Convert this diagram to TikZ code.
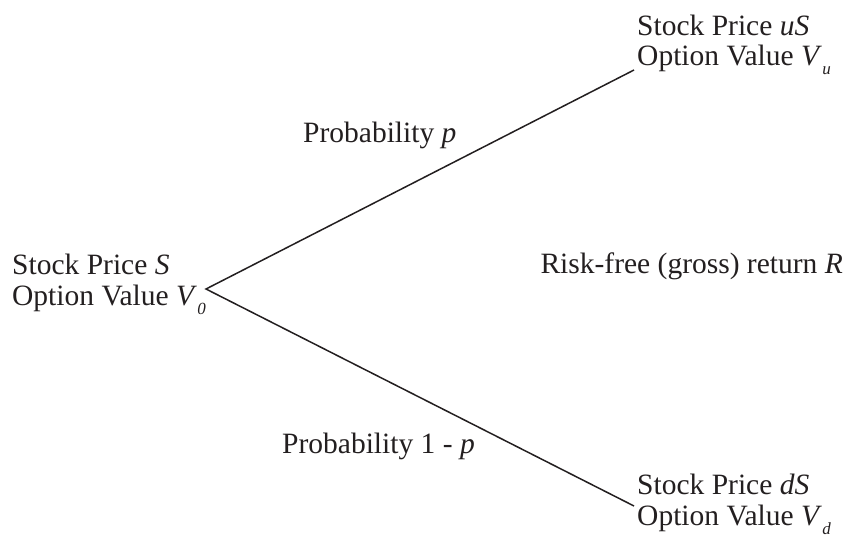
\documentclass[tikz,border=0pt]{standalone}
\usepackage{fontspec}
\setmainfont{Liberation Serif}
\usetikzlibrary{positioning}
\definecolor{ink}{HTML}{231F20}
\newcommand{\lowsub}[1]{\kern0.5pt\raisebox{-9pt}{\fontsize{17}{17}\selectfont\itshape #1}}
\tikzset{
  lbl/.style={anchor=base west,inner sep=0pt,text=ink,font=\fontsize{29.5}{31}\selectfont},
  branch/.style={draw=ink,line width=1.5pt}
}

\begin{document}
\begin{tikzpicture}[x=1pt,y=-1pt]
\useasboundingbox (0,0) rectangle (848,535);
% today
\node[lbl] (s0price) at (12,274) {Stock Price \textit{S}};
\node[lbl] (s0value) at (12,305) {Option Value \textit{V}\lowsub{0}};
% up state
\node[lbl] (suprice) at (637,36) {Stock Price \textit{uS}};
\node[lbl] (suvalue) at (637,66) {Option Value \textit{V}\lowsub{u}};
% down state
\node[lbl] (sdprice) at (637,494) {Stock Price \textit{dS}};
\node[lbl] (sdvalue) at (637,525) {Option Value \textit{V}\lowsub{d}};
% branch labels
\node[lbl] (probup) at (303,142) {Probability \textit{p}};
\node[lbl] (probdn) at (282,453) {Probability 1 - \textit{p}};
\node[lbl,anchor=base east] (rate) at (843,273) {Risk-free (gross) return \textit{R}};
\coordinate (root) at (206,289);
\coordinate (upend) at (634,70);
\coordinate (dnend) at (634,506);
\draw[branch] (upend) -- (root) -- (dnend);
\end{tikzpicture}
\end{document}
